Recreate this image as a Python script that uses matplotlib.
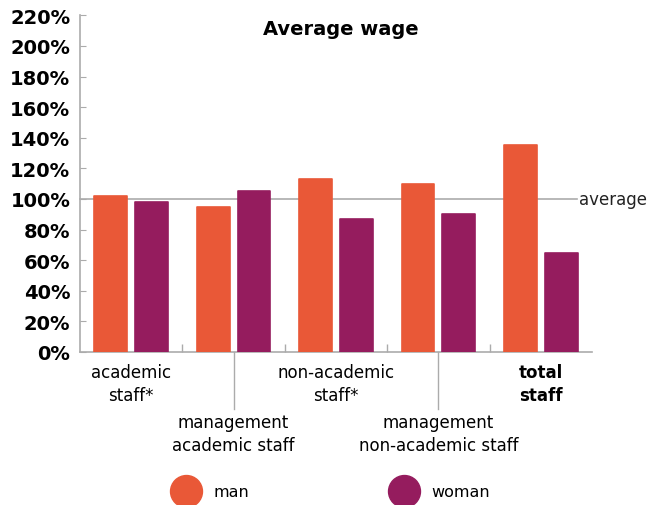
import numpy as np
import matplotlib.pyplot as plt
from matplotlib.lines import Line2D

# -------------------------------
# DATA
# -------------------------------
categories = ["academic\nstaff*", "management\nacademic staff", "non-academic\nstaff*",
              "management\nnon-academic staff", "total\nstaff"]
man = [102, 95, 113, 110, 135]
woman = [98, 105, 87, 90, 65]
yticks = list(range(0, 221, 20))

ORANGE = "#E95837"
PURPLE = "#951C5E"
GREY = "#ABABAB"

# -------------------------------
# FIGURE
# -------------------------------
fig = plt.figure(figsize=(6.47, 5.06), dpi=100)
ax = fig.add_axes([80 / 647, 1 - 353 / 506, 512 / 647, (353 - 16.4) / 506])

x = np.arange(len(categories))
w = 0.32
ax.bar(x - 0.2, man, w, color=ORANGE, edgecolor=ORANGE, linewidth=1.2,
       joinstyle="round", zorder=3)
ax.bar(x + 0.2, woman, w, color=PURPLE, edgecolor=PURPLE, linewidth=1.2,
       joinstyle="round", zorder=3)

# average reference line
ax.plot([-0.5, 4.35], [100, 100], color=GREY, lw=1.2, zorder=1, clip_on=False)
ax.text(4.37, 100, "average", ha="left", va="center", fontsize=12, color="#222222")

ax.set_xlim(-0.5, 4.5)
ax.set_ylim(0, 220)
ax.set_yticks(yticks)
ax.set_yticklabels([f"{v}%" for v in yticks], fontsize=14, fontweight="bold")
ax.tick_params(axis="y", direction="in", length=4, color=GREY, pad=7)

# small separators between groups
ax.set_xticks([])
ax.set_xticks([0.5, 1.5, 2.5, 3.5], minor=True)
ax.tick_params(axis="x", which="minor", direction="in", length=6, color=GREY, width=1)

for s in ["top", "right"]:
    ax.spines[s].set_visible(False)
for s in ["left", "bottom"]:
    ax.spines[s].set_color(GREY)
    ax.spines[s].set_linewidth(1.2)

# staggered category labels
for i, lab in enumerate(categories):
    low = i % 2 == 1
    off = -44 if low else -8
    ax.annotate(lab, xy=(i, 0), xycoords=("data", "axes fraction"),
                xytext=(0, off), textcoords="offset points",
                ha="center", va="top", fontsize=12, linespacing=1.35,
                fontweight="bold" if i == len(categories) - 1 else "normal")
    if low:
        ax.axvline(i, ymin=-57 / 336.6, ymax=0, color=GREY, lw=1, clip_on=False)

ax.text(0.51, 0.96, "Average wage", transform=ax.transAxes, ha="center", va="center",
        fontsize=14, fontweight="bold")

# -------------------------------
# LEGEND
# -------------------------------
handles = [Line2D([], [], marker="o", ls="", ms=23, color=ORANGE, label="man"),
           Line2D([], [], marker="o", ls="", ms=23, color=PURPLE, label="woman")]
fig.legend(handles=handles, loc="center", bbox_to_anchor=(0.516, 1 - 493 / 506),
           ncol=2, frameon=False, fontsize=11.5, handlelength=1.0,
           handletextpad=1.2, columnspacing=9.2)

fig.savefig("out.png", dpi=100)
